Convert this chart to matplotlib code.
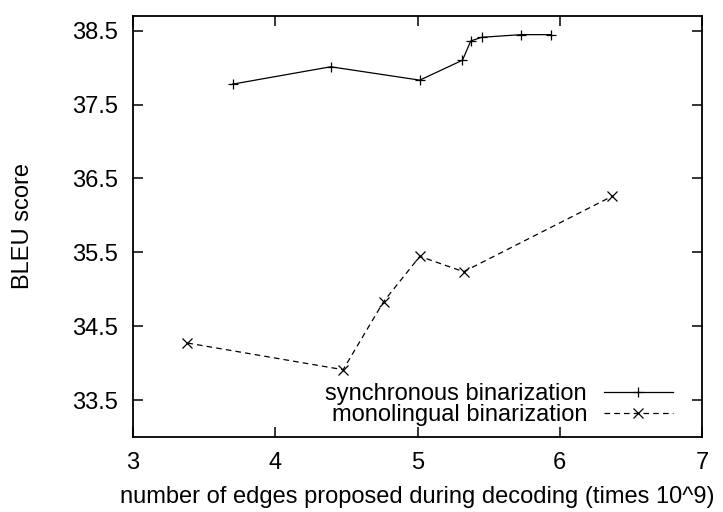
import matplotlib
matplotlib.use("Agg")
import matplotlib.pyplot as plt

plt.rcParams['font.family'] = ['Liberation Sans', 'DejaVu Sans']

sync_x = [3.70, 4.39, 5.016, 5.316, 5.374, 5.451, 5.729, 5.939]
sync_y = [37.776, 38.011, 37.83, 38.10, 38.36, 38.41, 38.446, 38.446]

mono_x = [3.382, 4.477, 4.761, 5.016, 5.324, 6.366]
mono_y = [34.272, 33.911, 34.831, 35.445, 35.237, 36.256]

x_ticks = [3, 4, 5, 6, 7]
y_ticks = [33.5, 34.5, 35.5, 36.5, 37.5, 38.5]

FS = 17

fig = plt.figure(figsize=(7.23, 5.12), dpi=100)
ax = fig.add_axes([0.184, 0.1465, 0.787, 0.8225])

ax.plot(sync_x, sync_y, color='black', linewidth=0.9, marker='+',
        markersize=7.5, markeredgewidth=0.9, label='synchronous binarization')
ax.plot(mono_x, mono_y, color='black', linewidth=0.9, marker='x',
        markersize=7, markeredgewidth=0.9, dashes=(4.5, 3.3),
        label='monolingual binarization')

ax.set_xlim(3, 7)
ax.set_ylim(33.0, 38.7)
ax.set_xticks(x_ticks)
ax.set_xticklabels([str(t) for t in x_ticks])
ax.set_yticks(y_ticks)
ax.set_yticklabels([f"{t:.1f}" for t in y_ticks])
ax.tick_params(direction='in', length=7, width=1.1, top=True, right=True,
               labelsize=FS)
ax.tick_params(axis='x', pad=10.5)
ax.tick_params(axis='y', pad=11)
for s in ax.spines.values():
    s.set_linewidth(1.3)

ax.set_xlabel('number of edges proposed during decoding (times 10^9)',
              fontsize=FS, labelpad=9)
ax.set_ylabel('BLEU score', fontsize=FS, labelpad=27)

leg = ax.legend(loc='lower right', frameon=False, markerfirst=False,
                fontsize=FS, handlelength=2.92, handletextpad=0.72,
                labelspacing=-0.06, borderaxespad=0.0,
                bbox_to_anchor=(0.9655, 0.004))
for t in leg.get_texts():
    t.set_ha('right')

fig.savefig('out.png', dpi=100)
